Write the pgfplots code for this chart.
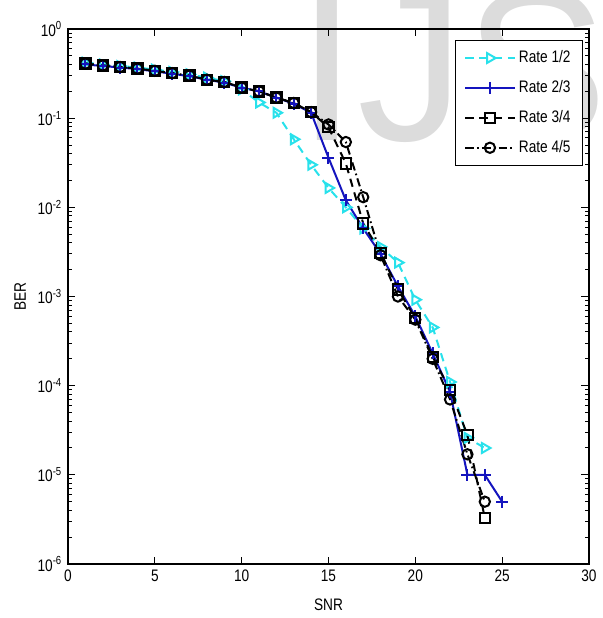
\documentclass[border=0pt]{standalone}
\usepackage{fontspec}
\setmainfont{Liberation Sans}[FakeStretch=0.82]
\newfontfamily\wmfont{Liberation Sans}
\usepackage{pgfplots}
\usepackage{pgfplotstable}
\pgfplotsset{compat=1.18}
\definecolor{rcyan}{RGB}{40,225,235}
\definecolor{rblue}{RGB}{20,20,190}
\definecolor{wmark}{RGB}{220,220,220}

% BER vs SNR, one table per code rate
\pgfplotstableread{
x y
1 0.42
2 0.40
3 0.385
4 0.37
5 0.35
6 0.33
7 0.31
8 0.285
9 0.26
10 0.21
11 0.15
12 0.115
13 0.058
14 0.030
15 0.0165
16 0.010
17 0.0058
18 0.0036
19 0.0024
20 0.00092
21 0.00045
22 0.00011
23 2.6e-5
24 2.0e-5
}\rateA

\pgfplotstableread{
x y
1 0.40
2 0.385
3 0.37
4 0.355
5 0.335
6 0.315
7 0.295
8 0.27
9 0.25
10 0.22
11 0.20
12 0.17
13 0.145
14 0.115
15 0.036
16 0.012
17 0.0058
18 0.0030
19 0.0013
20 0.0006
21 0.00023
22 8.5e-5
23 1.0e-5
24 1.0e-5
25 5.0e-6
}\rateB

\pgfplotstableread{
x y
1 0.41
2 0.39
3 0.375
4 0.36
5 0.34
6 0.32
7 0.30
8 0.27
9 0.255
10 0.22
11 0.20
12 0.17
13 0.148
14 0.117
15 0.079
16 0.031
17 0.0066
18 0.0031
19 0.0012
20 0.00057
21 0.00021
22 9.0e-5
23 2.8e-5
24 3.3e-6
}\rateC

\pgfplotstableread{
x y
1 0.41
2 0.39
3 0.375
4 0.36
5 0.34
6 0.32
7 0.30
8 0.27
9 0.255
10 0.22
11 0.20
12 0.17
13 0.148
14 0.117
15 0.085
16 0.054
17 0.013
18 0.0029
19 0.0010
20 0.00055
21 0.0002
22 7.0e-5
23 1.7e-5
24 5.0e-6
}\rateD

\begin{document}
\begin{tikzpicture}
% faint watermark behind the axis (axis box starts at the origin)
\node[overlay, anchor=base west, inner sep=0pt, text=wmark,
      font=\wmfont\fontsize{129}{129}\selectfont] at (137.4pt,254.4pt) {IJS};
\begin{axis}[
    name=ax,
    scale only axis,
    width=312.6pt,
    height=321pt,
    ymode=log,
    xmin=0, xmax=30,
    ymin=1e-6, ymax=1,
    xtick={0,5,...,30},
    ytick={1e-6,1e-5,1e-4,1e-3,1e-2,1e-1,1},
    yticklabels={10\textsuperscript{-6},10\textsuperscript{-5},10\textsuperscript{-4},10\textsuperscript{-3},10\textsuperscript{-2},10\textsuperscript{-1},10\textsuperscript{0}},
    /pgf/number format/assume math mode=true,
    tick label style={font=\fontsize{10}{12}\selectfont},
    label style={font=\fontsize{10}{12}\selectfont},
    xlabel={SNR},
    ylabel={BER},
    xlabel style={at={(axis description cs:0.5,-0.077)},anchor=center},
    ylabel style={at={(axis description cs:-0.092,0.5)},anchor=center},
    axis line style={line width=0.8pt},
    major tick length=4.5pt,
    minor tick length=2.5pt,
    every tick/.style={black,line width=0.6pt},
    legend cell align=left,
    legend style={at={(axis description cs:0.988,0.979)},anchor=north east,
        font=\fontsize{10}{12}\selectfont, draw=black, line width=0.6pt,
        row sep=5.2pt, inner xsep=5pt, inner ysep=4pt},
    legend image code/.code={%
        \draw[mark repeat=2,mark phase=2] plot coordinates {(0cm,0cm) (0.52cm,0cm) (1.04cm,0cm)};},
]
\addplot[rcyan, line width=1.2pt, dash pattern=on 5pt off 3.5pt, mark=triangle, mark size=3.4pt,
    mark options={solid, rotate=-90}] table {\rateA};
\addplot[rblue, line width=1.2pt, solid, mark=+, mark size=3.6pt] table {\rateB};
\addplot[black, line width=1.2pt, dash pattern=on 5pt off 3.5pt, mark=square, mark size=3.1pt,
    mark options={solid}] table {\rateC};
\addplot[black, line width=1.2pt, dash pattern=on 5pt off 2pt on 1pt off 2pt, mark=o, mark size=3.1pt,
    mark options={solid}] table {\rateD};
\legend{Rate 1/2,Rate 2/3,Rate 3/4,Rate 4/5}
\end{axis}
\path ([xshift=-40.8pt,yshift=-32.4pt]ax.south west) ([xshift=6pt,yshift=17.4pt]ax.north east);
\end{tikzpicture}
\end{document}
